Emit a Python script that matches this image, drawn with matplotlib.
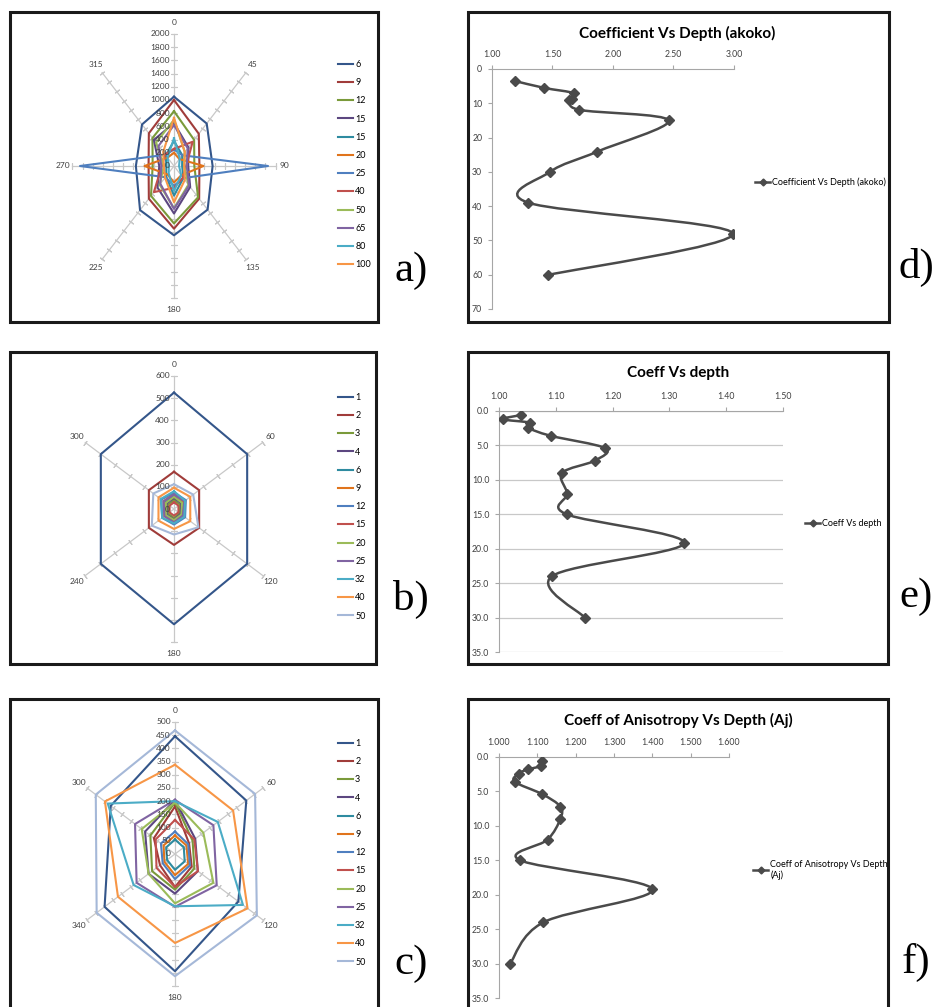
import numpy as np
import matplotlib.pyplot as plt
from matplotlib.path import Path
from matplotlib.patches import PathPatch, Rectangle
from matplotlib.lines import Line2D

plt.rcParams['font.family'] = ['Lato', 'DejaVu Sans']

W, H = 937, 1007
fig = plt.figure(figsize=(W / 100, H / 100), dpi=100)


def px_axes(x0, y0, x1, y1):
    return fig.add_axes([x0 / W, 1 - y1 / H, (x1 - x0) / W, (y1 - y0) / H])


# ---------------- radar data ----------------
colors = ['#34568A', '#A03C3A', '#7A9A3A', '#5C4780', '#2E8BA0', '#E0741C',
          '#4F7FBF', '#C0504D', '#9BBB59', '#8064A2', '#4BACC6', '#F79646', '#A5B8D8']

a_angles = [0, 45, 90, 135, 180, 225, 270, 315]
a_names = ['6', '9', '12', '15', '15', '20', '25', '40', '50', '65', '80', '100']
a_vals = [
    [1050, 910, 760, 935, 1050, 945, 750, 890],
    [1000, 690, 500, 700, 950, 700, 500, 700],
    [830, 560, 400, 670, 870, 640, 420, 600],
    [650, 400, 280, 450, 720, 460, 290, 560],
    [380, 230, 160, 260, 450, 220, 150, 230],
    [200, 150, 580, 200, 250, 180, 580, 180],
    [250, 230, 1850, 260, 300, 240, 1850, 240],
    [260, 520, 240, 250, 330, 560, 240, 250],
    [700, 300, 200, 400, 640, 400, 200, 500],
    [620, 380, 250, 420, 650, 380, 250, 430],
    [420, 160, 100, 200, 380, 150, 100, 180],
    [730, 300, 200, 300, 550, 250, 200, 300],
]

b_angles = [0, 60, 120, 180, 240, 300]
b_names = ['1', '2', '3', '4', '6', '9', '12', '15', '20', '25', '32', '40', '50']
b_vals = [
    [525, 495, 495, 520, 495, 495],
    [168, 170, 170, 162, 170, 170],
    [40, 40, 38, 40, 40, 40],
    [50, 50, 45, 48, 50, 50],
    [60, 55, 55, 55, 55, 60],
    [70, 65, 65, 60, 65, 70],
    [75, 80, 75, 70, 80, 85],
    [30, 30, 30, 30, 30, 30],
    [55, 55, 50, 50, 55, 55],
    [65, 70, 60, 60, 65, 70],
    [80, 75, 70, 65, 80, 90],
    [96, 110, 110, 90, 105, 105],
    [112, 130, 165, 115, 150, 140],
]

c_angles = [0, 60, 120, 180, 240, 300]
c_labels = ['0', '60', '120', '180', '340', '300']
c_names = ['1', '2', '3', '4', '6', '9', '12', '15', '20', '25', '32', '40', '50']
c_vals = [
    [446, 405, 360, 444, 400, 365],
    [180, 80, 95, 125, 85, 120],
    [195, 100, 110, 135, 130, 140],
    [205, 115, 130, 150, 150, 170],
    [55, 50, 55, 60, 45, 50],
    [70, 65, 75, 80, 60, 65],
    [85, 75, 85, 95, 70, 80],
    [129, 110, 130, 125, 105, 110],
    [195, 161, 218, 187, 150, 189],
    [205, 218, 237, 200, 218, 227],
    [200, 243, 386, 198, 235, 382],
    [338, 330, 412, 337, 324, 398],
    [468, 455, 465, 463, 445, 450],
]

# ---------------- depth profiles ----------------
d_coef = [1.19, 1.43, 1.68, 1.64, 1.66, 1.72, 2.46, 1.87, 1.48, 1.30, 2.99, 1.46]
d_depth = [3.5, 5.5, 7.1, 9.0, 8.8, 11.9, 15.0, 24.1, 30.0, 39.0, 48.0, 60.1]

e_coef = [1.038, 1.007, 1.055, 1.051, 1.091, 1.187, 1.169, 1.111, 1.120, 1.119, 1.326, 1.093, 1.151]
e_depth = [0.6, 1.2, 1.7, 2.4, 3.6, 5.4, 7.2, 9.0, 12.0, 15.0, 19.2, 24.0, 30.0]

f_coef = [1.113, 1.109, 1.076, 1.051, 1.041, 1.113, 1.160, 1.160, 1.127, 1.055, 1.400, 1.116, 1.029]
f_depth = [0.6, 1.3, 1.8, 2.4, 3.6, 5.4, 7.2, 9.0, 12.0, 15.0, 19.2, 24.0, 30.0]

TXT = '#404040'


def radar(box, ctr, sv, angles, labels, rmax, step, names, vals, leg_y):
    ax = px_axes(*box)
    ax.set_axis_off()
    sh = 0.77 * sv
    x0, y0, x1, y1 = box
    cx, cy = ctr
    ax.set_xlim((x0 - cx) / sh, (x1 - cx) / sh)
    ax.set_ylim((cy - y1) / sv, (cy - y0) / sv)
    th = np.radians(angles)
    ticks = np.arange(step, rmax + step / 2, step)
    for t, lab in zip(th, labels):
        ax.plot([0, rmax * np.sin(t)], [0, rmax * np.cos(t)], color='#C8C8C8', lw=0.9, zorder=1)
        phi = np.degrees(np.arctan2(np.cos(t) * sv, np.sin(t) * sh))
        ax.plot(ticks * np.sin(t), ticks * np.cos(t), ls='none', marker=(2, 2, phi),
                ms=4, mew=0.8, color='#C8C8C8', zorder=1)
        rl = rmax * 1.09
        ax.text(rl * np.sin(t), rl * np.cos(t), lab, ha='center', va='center', fontsize=6, color=TXT)
    for v in np.arange(0, rmax + step / 2, step):
        ax.annotate(f'{v:g}', (0, v), xytext=(-3, 0), textcoords='offset points',
                    ha='right', va='center', fontsize=6, color=TXT, zorder=3)
    tt = np.append(th, th[0])
    handles = []
    for name, v, c in zip(names, vals, colors):
        v = np.append(v, v[0])
        h, = ax.plot(v * np.sin(tt), v * np.cos(tt), color=c, lw=1.5, zorder=2)
        handles.append(h)
    ax.legend(handles, names, loc='upper left', bbox_to_anchor=(338 / W, 1 - (leg_y - 6) / H),
              bbox_transform=fig.transFigure, frameon=False, fontsize=6.5, handlelength=1.7,
              handletextpad=0.2, labelspacing=1.02, borderpad=0, borderaxespad=0)


def smooth_path(xs, ys):
    pts = np.column_stack([xs, ys])
    verts, codes = [pts[0]], [Path.MOVETO]
    n = len(pts)
    for i in range(n - 1):
        p0 = pts[i - 1] if i > 0 else pts[i]
        p1, p2 = pts[i], pts[i + 1]
        p3 = pts[i + 2] if i + 2 < n else pts[i + 1]
        verts += [p1 + (p2 - p0) / 6, p2 - (p3 - p1) / 6, p2]
        codes += [Path.CURVE4] * 3
    return Path(verts, codes)


def depth_chart(box, xlim, xstep, xfmt, ymax, ystep, yfmt, xs, ys, title, title_xy,
                legend_text, leg_xy, grid=False):
    ax = px_axes(*box)
    ax.set_xlim(*xlim)
    ax.set_ylim(ymax, 0)
    ax.xaxis.tick_top()
    ax.set_xticks(np.arange(xlim[0], xlim[1] + xstep / 2, xstep))
    ax.set_yticks(np.arange(0, ymax + ystep / 2, ystep))
    ax.xaxis.set_major_formatter(plt.FormatStrFormatter(xfmt))
    ax.yaxis.set_major_formatter(plt.FormatStrFormatter(yfmt))
    for s in ['right', 'bottom']:
        ax.spines[s].set_visible(False)
    for s in ['left', 'top']:
        ax.spines[s].set_color('#A6A6A6')
        ax.spines[s].set_linewidth(0.8)
    ax.tick_params(length=3, width=0.8, color='#A6A6A6', labelsize=6.3, labelcolor=TXT, pad=4)
    if grid:
        ax.yaxis.grid(True, color='#C8C8C8', lw=0.9)
        ax.set_axisbelow(True)
    ax.add_patch(PathPatch(smooth_path(xs, ys), fill=False, ec='#4A4A4A', lw=1.8, zorder=3))
    ax.plot(xs, ys, ls='none', marker='D', ms=5.5, color='#4A4A4A', zorder=4)
    fig.text(title_xy[0] / W, 1 - title_xy[1] / H, title, ha='center', va='center',
             fontsize=11, fontweight='bold', color='black')
    proxy = Line2D([], [], color='#4A4A4A', lw=1.8, marker='D', ms=3.5)
    ax.legend([proxy], [legend_text], loc='center left', bbox_to_anchor=(leg_xy[0] / W, 1 - leg_xy[1] / H),
              bbox_transform=fig.transFigure, frameon=False, fontsize=6.5, handlelength=1.7,
              handletextpad=0.2, borderpad=0, borderaxespad=0)


radar((14, 14, 335, 320), (174, 166), 132 / 2000, a_angles,
      ['0', '45', '90', '135', '180', '225', '270', '315'], 2000, 200, a_names, a_vals, 66)
radar((14, 354, 335, 662), (174, 509), 133 / 600, b_angles,
      ['0', '60', '120', '180', '240', '300'], 600, 100, b_names, b_vals, 399)
radar((14, 701, 335, 1007), (175, 854), 132 / 500, c_angles, c_labels,
      500, 50, c_names, c_vals, 745)

depth_chart((492, 69, 734, 309), (1.0, 3.0), 0.5, '%.2f', 70, 10, '%d', d_coef, d_depth,
            'Coefficient Vs Depth (akoko)', (677, 33), 'Coefficient Vs Depth (akoko)', (755, 182))
depth_chart((499, 411, 783, 652), (1.0, 1.5), 0.1, '%.2f', 35, 5, '%.1f', e_coef, e_depth,
            'Coeff Vs depth', (678, 373), 'Coeff Vs depth', (805, 524), grid=True)
depth_chart((499, 757, 729, 998), (1.0, 1.6), 0.1, '%.3f', 35, 5, '%.1f', f_coef, f_depth,
            'Coeff of Anisotropy Vs Depth (Aj)', (678, 720), 'Coeff of Anisotropy Vs Depth\n(Aj)', (753, 870))

# frames and panel letters
for x0, y0, x1, y1 in [(10, 12, 378, 322), (10, 352, 376, 664), (10, 699, 378, 1012),
                       (468, 12, 889, 322), (468, 352, 888, 664), (468, 699, 888, 1012)]:
    fig.add_artist(Rectangle((x0 / W, 1 - y1 / H), (x1 - x0) / W, (y1 - y0) / H,
                             transform=fig.transFigure, fill=False, lw=2.2, ec='#1A1A1A'))
for lab, x, y in [('a)', 411, 271), ('b)', 411, 599), ('c)', 411, 964),
                  ('d)', 916, 267), ('e)', 916, 597), ('f)', 916, 962)]:
    fig.text(x / W, 1 - y / H, lab, ha='center', va='center', fontsize=31,
             family='Liberation Serif', color='black')

fig.savefig('out.png', dpi=100, facecolor='white')
